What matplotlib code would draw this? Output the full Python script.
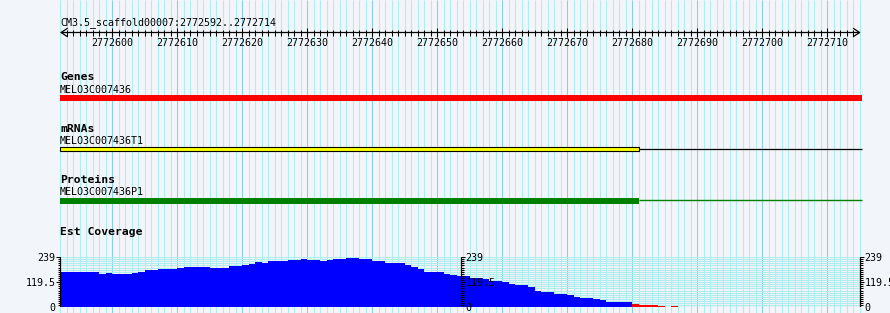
import matplotlib.pyplot as plt
import numpy as np

# view / ruler
seq_name = 'CM3.5_scaffold00007'
view_start = 2772592
view_end = 2772714
ruler_labels = [2772600, 2772610, 2772620, 2772630, 2772640, 2772650,
                2772660, 2772670, 2772680, 2772690, 2772700, 2772710]

# feature tracks
gene_name = 'MELO3C007436'
mrna_name = 'MELO3C007436T1'
protein_name = 'MELO3C007436P1'
exon_end = 2772681  # coloured block ends here, thin line after

# est coverage, one value per bp from view_start
est_coverage = [169, 169, 169, 169, 169, 169, 159, 164, 159, 159,
                159, 164, 169, 178, 178, 183, 183, 183, 188, 193,
                193, 193, 193, 189, 189, 189, 199, 199, 204, 208,
                216, 213, 221, 221, 221, 226, 226, 231, 226, 226,
                221, 226, 231, 231, 236, 236, 231, 231, 221, 221,
                210, 210, 210, 204, 194, 183, 169, 169, 169, 159,
                154, 150, 150, 140, 140, 134, 127, 127, 121, 113,
                108, 108, 99, 79, 75, 75, 65, 65, 60, 51,
                46, 46, 41, 36, 27, 27, 27, 27, 17, 12,
                12, 12, 8, 0, 8]
cov_max = 239
cov_low = 20  # below this the bar is drawn red

BG = '#F2F5FA'
MONO = 'DejaVu Sans Mono'

# pixel layout
W, H = 890, 313
LEFT = 60
PX_PER_BP = 6.5


def bp_at(px):
  return view_start + (px - LEFT) / PX_PER_BP


def main() -> None:
  track_end = bp_at(862)
  fig = plt.figure(figsize=(W / 100, H / 100), dpi=100, facecolor=BG)

  ax = fig.add_axes([0, 0, 1, 1])
  ax.set_xlim(bp_at(0), bp_at(W))
  ax.set_ylim(H, 0)
  ax.axis('off')

  # background grid: every bp, darker every 10 bp
  grid = np.arange(view_start, int(track_end) + 1)
  minor = grid[grid % 10 != 0]
  major = grid[grid % 10 == 0]
  ax.vlines(minor, 0, H, color='#AFEEEE', lw=0.75, snap=True, zorder=0)
  ax.vlines(major, 0, H, color='#87CEEB', lw=0.75, snap=True, zorder=0)

  # ruler
  ax.text(view_start, 25, f'{seq_name}:{view_start}..{view_end}',
          family=MONO, size=7.2, va='baseline')
  ax.annotate('', xy=(track_end - 0.2, 32.5), xytext=(view_start, 32.5),
              arrowprops=dict(arrowstyle='<->,head_length=0.45,head_width=0.3',
                              color='black', lw=0.9, shrinkA=0, shrinkB=0))
  ticks = np.arange(view_start + 1, view_end + 1)
  ax.vlines(ticks, 29.5, 35.5, color='black', lw=0.75, snap=True)
  ax.vlines(ruler_labels, 27.5, 37, color='black', lw=0.75, snap=True)
  for pos in ruler_labels:
    ax.text(pos, 46, str(pos), family=MONO, size=7.2, ha='center', va='baseline')

  # feature tracks
  ax.text(view_start, 80, 'Genes', family=MONO, weight='bold', size=8.2, va='baseline')
  ax.text(view_start, 92.7, gene_name, family=MONO, size=7.2, va='baseline')
  ax.barh(97.8, track_end - view_start, left=view_start, height=6, color='#FF0000')

  ax.text(view_start, 131.7, 'mRNAs', family=MONO, weight='bold', size=8.2, va='baseline')
  ax.text(view_start, 144.3, mrna_name, family=MONO, size=7.2, va='baseline')
  ax.hlines(149.3, exon_end, track_end, color='black', lw=0.9)
  ax.barh(149.2, exon_end - view_start, left=view_start, height=4.6,
          color='#FFFF00', edgecolor='black', lw=0.8)

  ax.text(view_start, 183.3, 'Proteins', family=MONO, weight='bold', size=8.2, va='baseline')
  ax.text(view_start, 195, protein_name, family=MONO, size=7.2, va='baseline')
  ax.hlines(200.3, exon_end, track_end, color='#008000', lw=1.0)
  ax.barh(201, exon_end - view_start, left=view_start, height=5.4, color='#008000')

  ax.text(view_start, 235, 'Est Coverage', family=MONO, weight='bold', size=8.2, va='baseline')

  # coverage plot
  axc = fig.add_axes([0, (H - 307.3) / H, 1, 50 / H])
  axc.set_xlim(ax.get_xlim())
  axc.set_ylim(0, cov_max)
  axc.axis('off')
  axc.patch.set_alpha(0)

  levels = list(range(10, cov_max, 10)) + [cov_max]
  axc.hlines(levels, view_start, track_end, color='#AFEEEE', lw=0.75, snap=True)
  axc.hlines(0, view_start, track_end, color='#87CEEB', lw=0.9, snap=True)

  cov = np.array(est_coverage)
  edges = view_start + np.arange(len(cov) + 1)
  high = np.where(cov >= cov_low, cov, 0)
  low = np.where(cov < cov_low, cov, 0)
  axc.stairs(high, edges, fill=True, color='#0000FF', lw=0, zorder=2)
  axc.stairs(low, edges, fill=True, color='#FF0000', lw=0, zorder=2)

  # three scale bars: left, middle, right
  mid = (view_start + track_end) / 2
  tick_vals = np.arange(0, cov_max, 10).tolist() + [cov_max]
  big_vals = [0, cov_max / 2, cov_max]
  small = 2.5 / PX_PER_BP
  big = 4 / PX_PER_BP
  for x, side in [(view_start, -1), (mid, 1), (track_end - 0.3, 1)]:
    axc.vlines(x, 0, cov_max, color='black', lw=0.9, zorder=3, snap=True)
    axc.hlines(tick_vals, x, x + side * small, color='black', lw=0.75, zorder=3)
    axc.hlines(big_vals, x, x + side * big, color='black', lw=0.75, zorder=3)
    for v, label in zip(big_vals, ['0', '119.5', '239']):
      axc.text(x + side * 4.5 / PX_PER_BP, v, label, family=MONO, size=7.2,
               ha='right' if side < 0 else 'left', va='center_baseline',
               clip_on=False, zorder=4)

  fig.savefig('out.png', dpi=100, facecolor=BG)


if __name__ == '__main__':
  main()
